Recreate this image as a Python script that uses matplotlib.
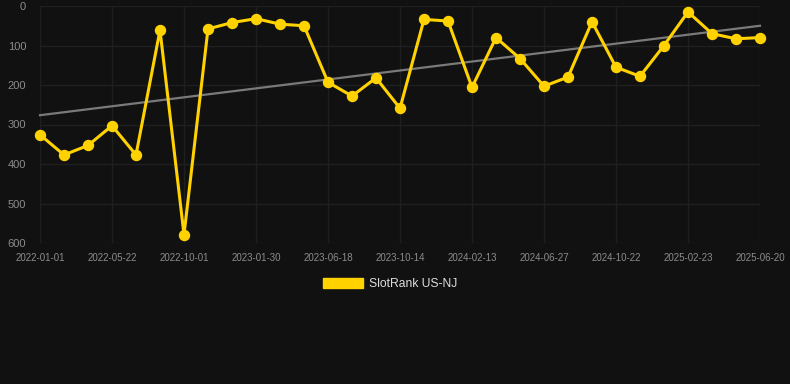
"""SlotRank US-NJ rank history with linear trend (dark theme)."""

import numpy as np
import matplotlib

matplotlib.use("Agg")
import matplotlib.pyplot as plt
from matplotlib.patches import Patch

# rank per sample (index order, evenly spaced on the chart)
ranks = [326, 377, 353, 303, 377, 61, 579, 58, 42, 32, 46, 50, 193, 228, 182, 259,
         34, 38, 206, 80, 133, 203, 180, 40, 155, 178, 100, 15, 70, 83, 80]
tick_labels = ["2022-01-01", "2022-05-22", "2022-10-01", "2023-01-30", "2023-06-18",
               "2023-10-14", "2024-02-13", "2024-06-27", "2024-10-22", "2025-02-23",
               "2025-06-20"]
y_ticks = [0, 100, 200, 300, 400, 500, 600]
series_name = "SlotRank US-NJ"

BG = "#111111"
GOLD = "#FFD200"
GRID = "#1f1f1f"
TEXT = "#8c8c8c"

plt.rcParams["font.family"] = ["Liberation Sans", "DejaVu Sans"]

fig = plt.figure(figsize=(7.9, 3.84), dpi=100, facecolor=BG)
ax = fig.add_axes([40 / 790, 1 - 243 / 384, 720 / 790, 237 / 384], facecolor=BG)

x = np.arange(len(ranks))
y = np.array(ranks, dtype=float)

# trend line from a least-squares fit
slope, intercept = np.polyfit(x, y, 1)
ax.plot(x, slope * x + intercept, color="#7a7a7a", lw=1.6, zorder=2, clip_on=False)

ax.plot(x, y, color=GOLD, lw=2.2, marker="o", ms=7.2, mec=GOLD, mfc=GOLD,
        solid_joinstyle="miter", zorder=3, clip_on=False)

ax.set_xlim(0, len(ranks) - 1)
ax.set_ylim(600, 0)
ax.set_xticks(x[::3])
ax.set_xticklabels(tick_labels)
ax.set_yticks(y_ticks)

ax.tick_params(axis="x", length=0, pad=7, labelsize=7, labelcolor=TEXT)
ax.tick_params(axis="y", length=0, pad=10, labelsize=8, labelcolor=TEXT)
ax.grid(True, color=GRID, lw=1.0)
ax.set_axisbelow(True)
for s in ax.spines.values():
    s.set_visible(False)

handle = Patch(facecolor=GOLD, edgecolor=GOLD)
leg = fig.legend([handle], [series_name], loc="center", bbox_to_anchor=(390 / 790, 1 - 284 / 384),
                 frameon=False, fontsize=8.7, labelcolor="#dddddd",
                 handlelength=3.3, handleheight=0.9, handletextpad=0.5)

fig.savefig("out.png", facecolor=BG)
